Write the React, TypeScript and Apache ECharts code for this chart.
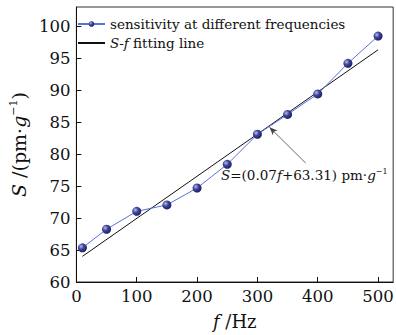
import React, { useEffect, useRef } from "react";
import * as echarts from "echarts";

const frequencies = [10, 50, 100, 150, 200, 250, 300, 350, 400, 450, 500];
const sensitivity = [65.35, 68.25, 71.05, 72.05, 74.7, 78.4, 83.1, 86.2, 89.4, 94.2, 98.45];
const fitFreq = [10, 500];
const fitValues = [64.01, 96.31];
const arrowTail = [380, 78.6];
const arrowHead = [320, 84.2];
const yTicks = { min: 60, max: 103, interval: 5 };
const xTicks = { min: 0, max: 525, interval: 100 };

const FONT = "DejaVu Serif";

export default function App() {
  const ref = useRef<HTMLDivElement>(null);
  useEffect(() => {
    if (!ref.current) return;
    const chart = echarts.init(ref.current, undefined, { renderer: "svg" });
    const sphere = new echarts.graphic.RadialGradient(0.35, 0.35, 0.7, [
      { offset: 0, color: "#b8bce8" },
      { offset: 0.45, color: "#3d4399" },
      { offset: 1, color: "#1a1d5e" },
    ]);
    chart.setOption({
      animation: false,
      backgroundColor: "#fff",
      grid: {
        left: 59,
        right: 2,
        top: 7,
        bottom: 52,
        show: true,
        borderColor: "#333",
        borderWidth: 1,
      },
      legend: {
        left: 72,
        top: 12,
        orient: "vertical",
        itemWidth: 27,
        itemHeight: 7,
        itemGap: 5,
        textStyle: {
          fontFamily: FONT,
          fontSize: 13.5,
          color: "#111",
          rich: { i: { fontFamily: FONT, fontStyle: "italic", fontSize: 13.5, color: "#111" } },
        },
        formatter: (name: string) =>
          name === "fit" ? "{i|S}-{i|f} fitting line" : "sensitivity at different frequencies",
        data: [
          { name: "sens" },
          { name: "fit", itemStyle: { color: "rgba(0,0,0,0)", borderWidth: 0 } },
        ],
      },
      xAxis: {
        type: "value",
        min: xTicks.min,
        max: xTicks.max,
        interval: xTicks.interval,
        name: "{i|f} /Hz",
        nameLocation: "middle",
        nameGap: 30,
        nameTextStyle: {
          fontFamily: FONT,
          fontSize: 18,
          color: "#111",
          rich: { i: { fontFamily: FONT, fontStyle: "italic", fontSize: 18, color: "#111" } },
        },
        axisLine: { lineStyle: { color: "#111", width: 1 } },
        axisTick: { inside: true, length: 5, lineStyle: { color: "#111" } },
        axisLabel: {
          fontFamily: FONT,
          fontSize: 16.5,
          color: "#111",
          margin: 6,
          showMaxLabel: false,
          formatter: (v: number) => (v % 100 === 0 ? String(v) : ""),
        },
        splitLine: { show: false },
      },
      yAxis: {
        type: "value",
        min: yTicks.min,
        max: yTicks.max,
        interval: yTicks.interval,
        name: "{i|S} /(pm·{i|g}{s|−1})",
        nameLocation: "middle",
        nameGap: 40,
        nameRotate: 90,
        nameTextStyle: {
          fontFamily: FONT,
          fontSize: 19,
          color: "#111",
          rich: {
            i: { fontFamily: FONT, fontStyle: "italic", fontSize: 19, color: "#111" },
            s: { fontFamily: FONT, fontSize: 11, color: "#111", verticalAlign: "top", padding: [0, 0, 10, 0] },
          },
        },
        axisLine: { show: true, lineStyle: { color: "#111", width: 1 } },
        axisTick: { show: true, inside: true, length: 5, lineStyle: { color: "#111" } },
        axisLabel: {
          fontFamily: FONT,
          fontSize: 16.5,
          color: "#111",
          margin: 6,
          showMaxLabel: false,
        },
        splitLine: { show: false },
      },
      series: [
        {
          name: "sens",
          type: "line",
          data: frequencies.map((f, i) => [f, sensitivity[i]]),
          symbol: "circle",
          symbolSize: 9,
          lineStyle: { color: "#5a72d8", width: 1 },
          itemStyle: { color: sphere, borderWidth: 0 },
          z: 3,
        },
        {
          name: "fit",
          type: "line",
          data: fitFreq.map((f, i) => [f, fitValues[i]]),
          symbol: "none",
          lineStyle: { color: "#111", width: 1 },
          itemStyle: { color: "#111" },
          z: 2,
          markLine: {
            silent: true,
            symbol: ["none", "arrow"],
            symbolSize: [5, 8],
            lineStyle: { color: "#444", width: 0.8, type: "solid" },
            label: { show: false },
            data: [[{ coord: arrowTail }, { coord: arrowHead }]],
          },
        },
      ],
      graphic: [
        {
          type: "text",
          left: 221,
          top: 167,
          style: {
            text: "{i|S}=(0.07{i|f}+63.31) pm·{i|g}{s|−1}",
            fontFamily: FONT,
            fontSize: 13.5,
            fill: "#111",
            rich: {
              i: { fontFamily: FONT, fontStyle: "italic", fontSize: 13.5, fill: "#111" },
              s: { fontFamily: FONT, fontSize: 8, fill: "#111", verticalAlign: "top", padding: [0, 0, 8, 0] },
            },
          },
        },
      ],
    });
    return () => chart.dispose();
  }, []);
  return <div ref={ref} style={{ width: 396, height: 335, position: "absolute", left: 0, top: 0 }} />;
}
